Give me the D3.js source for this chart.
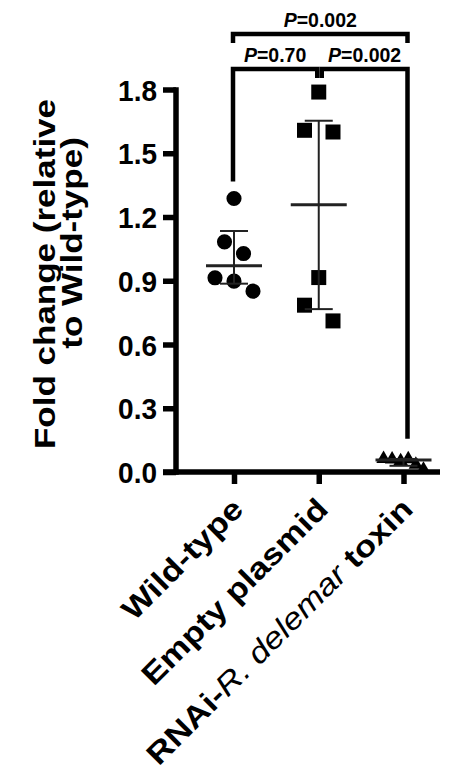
<!DOCTYPE html>
<html>
<head>
<meta charset="utf-8">
<script src="https://cdn.jsdelivr.net/npm/d3@7"></script>
<style>
  body { margin: 0; background: #fff; }
  svg text { font-family: 'Liberation Sans', Arial, sans-serif; font-weight: bold; fill: #000; }
</style>
</head>
<body>
<div id="chart"></div>
<script>
// groups on the x axis
var groups = ['Wild-type', 'Empty plasmid', 'RNAi-R. delemar toxin'];
var shapes = ['circle', 'square', 'triangle'];

// fold change values
var wildType = [1.287, 1.083, 1.028, 0.914, 0.898, 0.851];
var emptyPlasmid = [1.788, 1.608, 1.600, 0.915, 0.785, 0.711];
var rnaiToxin = [0.062, 0.060, 0.052, 0.061, 0.035, 0.012];

// horizontal scatter slots of each point (in point widths)
var wildTypeSlots = [0, -1, 1, -2, 0, 2];
var emptyPlasmidSlots = [0, -1.5, 1.5, 0, -1.5, 1.5];
var rnaiToxinSlots = [-2.1, -1.2, -0.3, 0.5, 1.3, 2.1];

var yTicks = [0, 0.3, 0.6, 0.9, 1.2, 1.5, 1.8];

// pairwise comparisons [from, to, label, level]
var comparisons = [
  [0, 1, '0.70', 0],
  [1, 2, '0.002', 0],
  [0, 2, '0.002', 1]
];

var series = [wildType, emptyPlasmid, rnaiToxin];
var slots = [wildTypeSlots, emptyPlasmidSlots, rnaiToxinSlots];

var W = 463, H = 780;
var svg = d3.select('#chart').append('svg').attr('width', W).attr('height', H);

var y = d3.scaleLinear().domain([0, 1.8]).range([472, 89.5]);
var x = d3.scalePoint().domain(groups).range([234, 403.5]);
var SLOT = 9.5;
var AXIS_W = 5.5;

// GraphPad style percentile
function pct(vals, p) {
  var s = vals.slice().sort(d3.ascending);
  var r = p * (s.length + 1) - 1;
  r = Math.max(0, Math.min(s.length - 1, r));
  var lo = Math.floor(r), hi = Math.ceil(r);
  return s[lo] + (r - lo) * (s[hi] - s[lo]);
}

// y axis
var yAxis = svg.append('g')
  .attr('transform', 'translate(176,0)')
  .call(d3.axisLeft(y).tickValues(yTicks).tickFormat(d3.format('.1f')).tickSize(13).tickSizeOuter(0).tickPadding(6));
yAxis.select('.domain').attr('stroke', '#000').attr('stroke-width', AXIS_W)
  .attr('d', 'M0,' + (y(0) + AXIS_W / 2) + 'V' + (y(1.8) - AXIS_W / 2 + 0.5));
yAxis.selectAll('.tick line').attr('stroke', '#000').attr('stroke-width', AXIS_W);
yAxis.selectAll('.tick text').style('font-size', '28px').attr('dy', '0.36em')
  .attr('transform', 'scale(1,1.05)');

// x axis
var xAxis = svg.append('g')
  .attr('transform', 'translate(0,' + y(0) + ')')
  .call(d3.axisBottom(x).tickSize(12).tickFormat(''));
xAxis.select('.domain').remove();
xAxis.selectAll('.tick line').attr('stroke', '#000').attr('stroke-width', AXIS_W);
xAxis.append('line').attr('x1', 163).attr('x2', 440).attr('stroke', '#000').attr('stroke-width', AXIS_W);

// x labels
var xl = svg.append('g').selectAll('text').data(groups).enter().append('text')
  .attr('text-anchor', 'end')
  .attr('transform', function (d) { return 'translate(' + (x(d) + 11) + ',511) rotate(-45) scale(1,0.86)'; })
  .style('font-size', '35px');
xl.each(function (d) {
  var t = d3.select(this);
  if (d.indexOf('R. delemar') !== -1) {
    t.append('tspan').text('RNAi-');
    t.append('tspan').text('R. delemar').style('font-style', 'italic').style('font-weight', 'normal');
    t.append('tspan').text(' toxin');
  } else {
    t.text(d);
  }
});

// y title (two lines)
svg.append('text').attr('text-anchor', 'middle')
  .attr('transform', 'translate(55,274) rotate(-90) scale(1,0.82)')
  .style('font-size', '35px')
  .text('Fold change (relative');
svg.append('text').attr('text-anchor', 'middle')
  .attr('transform', 'translate(82,243) rotate(-90) scale(1,0.82)')
  .style('font-size', '35px')
  .text('to Wild-type)');

// median with interquartile range
var stats = series.map(function (v) {
  return { q1: pct(v, 0.25), med: pct(v, 0.5), q3: pct(v, 0.75) };
});
var eb = svg.append('g').attr('stroke', '#222');
stats.forEach(function (s, i) {
  var cx = x(groups[i]);
  eb.append('line').attr('x1', cx).attr('x2', cx).attr('y1', y(s.q1)).attr('y2', y(s.q3)).attr('stroke-width', 2);
  eb.append('line').attr('x1', cx - 14).attr('x2', cx + 14).attr('y1', y(s.q1)).attr('y2', y(s.q1)).attr('stroke-width', 2);
  eb.append('line').attr('x1', cx - 14).attr('x2', cx + 14).attr('y1', y(s.q3)).attr('y2', y(s.q3)).attr('stroke-width', 2);
});

// points
var symTypes = { circle: d3.symbolCircle, square: d3.symbolSquare, triangle: d3.symbolTriangle };
var symSizes = { circle: 180, square: 225, triangle: 90 };
series.forEach(function (vals, i) {
  var sym = d3.symbol().type(symTypes[shapes[i]]).size(symSizes[shapes[i]]);
  svg.append('g').selectAll('path').data(vals).enter().append('path')
    .attr('d', sym)
    .attr('fill', '#000')
    .attr('transform', function (d, j) {
      return 'translate(' + (x(groups[i]) + slots[i][j] * SLOT) + ',' + y(d) + ')';
    });
});

// median lines on top
stats.forEach(function (s, i) {
  var cx = x(groups[i]);
  eb.append('line').attr('x1', cx - 28).attr('x2', cx + 28).attr('y1', y(s.med)).attr('y2', y(s.med)).attr('stroke-width', 3);
});
eb.raise();

// significance brackets
var levelY = [69, 34];
var br = svg.append('g');
comparisons.forEach(function (c) {
  var x1 = x(groups[c[0]]) - 1, x2 = x(groups[c[1]]) + 4;
  var by = levelY[c[3]];
  var y1, y2;
  if (c[3] === 0) {
    if (c[0] === 0) { x2 = x(groups[c[1]]) - 1.5; } else { x1 = x(groups[c[0]]) + 3; }
    y1 = y(d3.max(series[c[0]])) - 17;
    y2 = y(d3.max(series[c[1]])) - 20;
    if (c[0] === 1) y1 = y(d3.max(series[1])) - 14;
    if (c[1] === 1) y2 = y(d3.max(series[1])) - 14;
  } else {
    y1 = by + 9; y2 = by + 9;
  }
  br.append('path')
    .attr('d', 'M' + x1 + ',' + y1 + 'V' + by + 'H' + x2 + 'V' + y2)
    .attr('fill', 'none').attr('stroke', '#000').attr('stroke-width', 4.5);
  var t = br.append('text').attr('text-anchor', 'middle')
    .attr('x', (x1 + x2) / 2).attr('y', by - 7.5)
    .style('font-size', '19.5px');
  t.append('tspan').text('P').style('font-style', 'italic');
  t.append('tspan').text('=' + c[2]);
});
</script>
</body>
</html>
